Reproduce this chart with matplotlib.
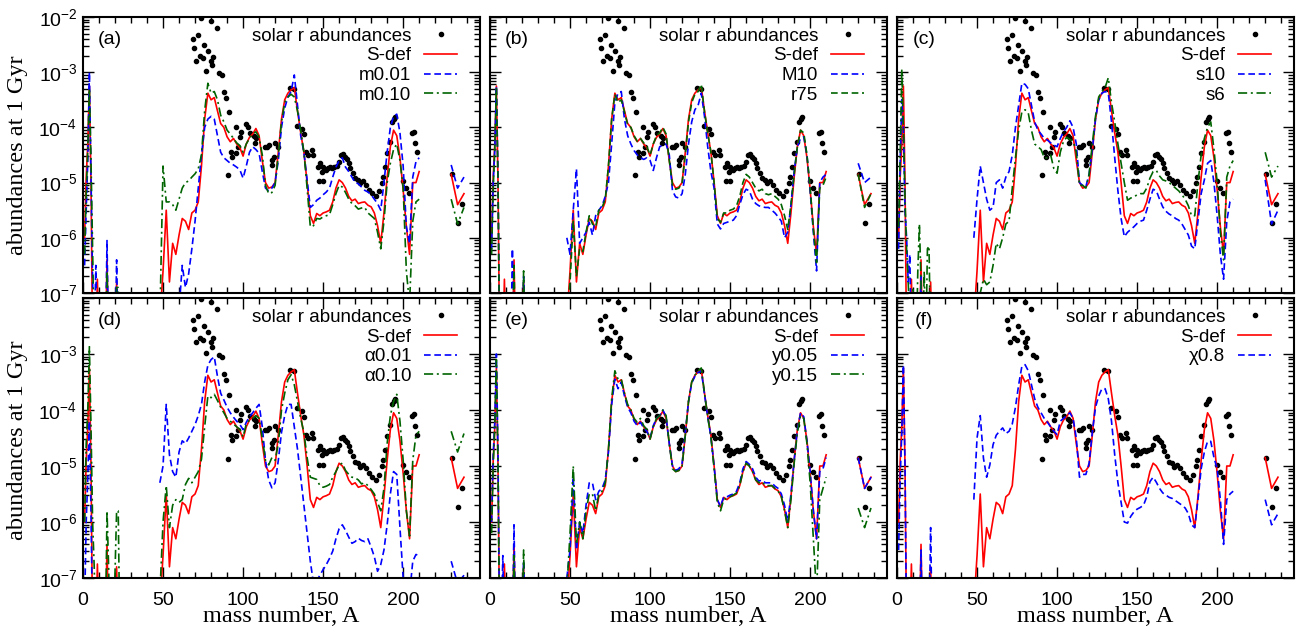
import numpy as np
import matplotlib.pyplot as plt
from matplotlib.ticker import MultipleLocator, LogLocator, FuncFormatter, NullFormatter

plt.rcParams['font.family'] = ['Liberation Sans', 'DejaVu Sans']
plt.rcParams['mathtext.fontset'] = 'custom'
plt.rcParams['mathtext.rm'] = 'Liberation Sans'
plt.rcParams['mathtext.it'] = 'Liberation Sans:italic'

# ---- data (log10 of abundance) ----
# mass-number grids for the three separate line segments
A_light = np.arange(1, 24)          # 1 .. 23
A_heavy = np.arange(48, 212, 2)     # 48 .. 210
A_tail = [230, 234, 238]

# solar r abundances (same in every panel)
solar_A = [68.5, 69.6, 70.6, 71.7, 73.1, 73.5, 74.8, 75.8, 76.9, 78.0, 79.8, 80.0, 80.6, 81.5,
           84.0, 84.7, 87.0, 88.0, 89.5, 90.5, 91.0, 92.2, 93.3, 95.5, 95.7, 97.0, 98.3, 99.0,
           101.9, 103.1, 104.6, 106.6, 107.3, 108.3, 113.6, 115.0, 116.5, 117.9, 118.3, 119.4,
           120.0, 121.7, 129.0, 131.5, 133.4, 136.5, 138.0, 139.4, 140.4, 142.8, 143.8, 147.0,
           147.5, 148.0, 149.2, 149.7, 150.2, 152.0, 153.3, 154.4, 155.4, 156.5, 158.6, 160.2,
           161.0, 162.7, 163.8, 164.8, 166.0, 167.0, 168.7, 170.2, 171.7, 173.3, 175.0, 176.5,
           178.6, 180.7, 182.8, 185.0, 186.6, 187.3, 188.7, 190.2, 191.5, 193.0, 194.0, 195.0,
           200.2, 201.9, 203.4, 205.4, 206.5, 207.5, 208.6, 230.4, 234.0, 237.0]
solar_log = [-2.40, -2.56, -2.79, -2.33, -2.71, -2.02, -2.75, -2.50, -2.98, -2.61, -2.07, -2.79, -2.87, -2.72,
             -2.20, -3.02, -3.05, -3.35, -3.47, -4.87, -3.73, -4.44, -4.54, -4.46, -4.00, -4.35, -4.17, -4.08,
             -3.94, -4.00, -4.10, -4.16, -4.28, -4.20, -4.35, -4.35, -4.32, -4.68, -4.59, -4.53,
             -4.28, -4.35, -3.28, -3.31, -3.97, -4.02, -4.12, -4.44, -4.50, -4.41, -4.50, -4.71,
             -4.98, -4.65, -4.80, -4.98, -4.71, -4.77, -4.74, -4.71, -4.74, -4.71, -4.70, -4.62,
             -4.50, -4.48, -4.53, -4.58, -4.65, -4.74, -4.83, -4.92, -4.95, -5.01, -4.98, -5.04,
             -5.13, -5.19, -5.25, -5.16, -5.00, -4.89, -4.71, -4.47, -4.26, -3.90, -3.84, -3.81,
             -4.98, -5.10, -5.19, -4.11, -4.08, -4.29, -4.44, -4.85, -5.73, -5.39]

# S-def (reference model, in every panel)
sdef_light = [-6.0, -4.9, -4.3, -3.25, -5.0, -8, -8, -8, -6.75, -8, -8, -8, -8, -8, -6.4, -8, -8, -8, -8, -8, -6.8, -8, -8]
sdef_heavy = [-7.5, -6.6, -5.5, -6.8, -6.1, -6.3, -5.95, -5.65, -5.7, -5.85,
              -5.55, -5.5, -5.35, -4.7, -3.85, -3.38, -3.5, -3.46, -3.7, -3.93,
              -4.0, -4.17, -4.26, -4.2, -4.3, -4.37, -4.52, -4.3, -4.18, -4.12,
              -4.02, -4.15, -4.6, -5.0, -5.1, -5.08, -5.0, -4.45, -3.85, -3.5,
              -3.38, -3.32, -3.28, -3.7, -4.1, -4.45, -5.0, -5.6, -5.74, -5.56,
              -5.6, -5.55, -5.53, -5.5, -5.35, -5.1, -4.95, -5.0, -5.1, -5.25,
              -5.33, -5.3, -5.38, -5.36, -5.35, -5.41, -5.44, -5.55, -5.78, -6.1,
              -5.55, -4.9, -4.35, -4.05, -4.15, -4.55, -5.13, -5.8, -6.3, -5.0,
              -5.0, -4.8]
sdef_tail = [-4.85, -5.4, -5.2]

# (a) m0.01, m0.10
m001_light = [-6.5, -5.5, -4.6, -3.0, -4.9, -6.8, -8, -6.5, -8, -8, -8, -8, -8, -8, -6.05, -8, -8, -8, -8, -8, -6.4, -8, -8]
m001_heavy = [-8, -8, -8, -8, -8, -8, -7.3, -6.5, -6.9, -6.65,
              -6.2, -5.7, -5.1, -4.5, -4.0, -3.85, -3.8, -3.85, -4.15, -4.45,
              -4.55, -4.6, -4.65, -4.68, -4.72, -4.77, -4.92, -4.7, -4.45, -4.35,
              -4.4, -4.47, -4.8, -5.1, -5.15, -5.1, -5.0, -4.6, -4.0, -3.65,
              -3.45, -3.35, -3.05, -3.6, -4.15, -4.45, -4.95, -5.45, -5.4, -5.32,
              -5.28, -5.22, -5.17, -5.1, -4.9, -4.72, -4.6, -4.55, -4.72, -4.8,
              -4.9, -5.0, -5.02, -5.08, -5.14, -5.17, -5.22, -5.3, -5.38, -5.5,
              -5.0, -4.45, -4.0, -3.8, -3.76, -4.1, -4.7, -5.8, -6.1, -4.9,
              -4.62, -4.55]
m001_tail = [-4.68, -5.1, -4.9]

m010_light = [-6.3, -5.2, -4.4, -3.3, -4.6, -6.2, -8, -7.5, -8, -8, -8, -8, -8, -8, -6.6, -8, -8, -8, -8, -8, -6.9, -6.9, -8]
m010_heavy = [-7.5, -4.7, -5.35, -5.35, -5.4, -5.5, -5.3, -5.1, -5.0, -4.97,
              -4.9, -4.84, -4.75, -4.5, -3.7, -3.2, -3.38, -3.35, -3.5, -3.78,
              -3.9, -4.05, -4.12, -4.2, -4.28, -4.33, -4.45, -4.3, -4.2, -4.12,
              -4.08, -4.18, -4.5, -5.05, -5.2, -5.18, -5.05, -4.5, -3.9, -3.55,
              -3.45, -3.4, -3.45, -3.7, -4.05, -4.45, -5.1, -5.8, -5.78, -5.65,
              -5.66, -5.62, -5.6, -5.58, -5.4, -5.2, -5.05, -5.08, -5.18, -5.3,
              -5.38, -5.42, -5.48, -5.46, -5.45, -5.55, -5.6, -5.65, -5.9, -6.2,
              -5.7, -5.0, -4.65, -4.4, -4.3, -4.6, -5.1, -6.6, -7.2, -5.7,
              -5.35, -5.3]
m010_tail = [-5.3, -5.75, -5.45]

# (b) M10, r75
M10_light = [-6.2, -5.0, -4.4, -3.25, -4.9, -8, -8, -8, -8, -8, -8, -8, -8, -6.2, -8, -8, -8, -8, -8, -8, -6.7, -8, -8]
M10_heavy = [-6.0, -6.3, -5.5, -4.75, -6.1, -6.0, -5.9, -5.72, -5.95, -5.6,
             -5.5, -5.42, -5.25, -5.0, -4.3, -3.55, -3.38, -3.35, -3.85, -4.15,
             -4.3, -4.42, -4.5, -4.55, -4.58, -4.55, -4.6, -4.78, -4.55, -4.35,
             -4.32, -4.3, -4.5, -5.15, -5.26, -5.28, -5.2, -4.85, -4.3, -3.9,
             -3.68, -3.6, -3.38, -3.8, -4.35, -4.8, -5.1, -5.75, -5.84, -5.74,
             -5.72, -5.7, -5.68, -5.6, -5.4, -5.22, -5.12, -5.15, -5.3, -5.38,
             -5.42, -5.44, -5.45, -5.45, -5.5, -5.55, -5.62, -5.7, -6.0, -5.9,
             -5.4, -4.8, -4.35, -4.2, -4.17, -4.5, -5.15, -5.9, -6.6, -5.0,
             -4.9, -4.85]
M10_tail = [-4.65, -5.0, -4.9]

r75_light = [-6.3, -5.1, -4.4, -3.3, -5.0, -8, -8, -8, -8, -8, -8, -8, -8, -8, -6.5, -8, -8, -8, -8, -8, -6.6, -8, -8]
r75_heavy = [-7.5, -6.8, -5.7, -6.7, -6.2, -6.25, -5.9, -5.6, -5.75, -5.8,
             -5.5, -5.45, -5.3, -4.7, -3.85, -3.4, -3.55, -3.5, -3.72, -3.95,
             -4.0, -4.15, -4.25, -4.2, -4.28, -4.35, -4.5, -4.3, -4.15, -4.1,
             -4.0, -4.12, -4.6, -5.05, -5.12, -5.1, -5.0, -4.5, -3.9, -3.55,
             -3.4, -3.35, -3.22, -3.72, -4.1, -4.45, -5.0, -5.65, -5.72, -5.55,
             -5.55, -5.5, -5.48, -5.42, -5.25, -5.0, -4.85, -4.9, -5.0, -5.1,
             -5.15, -5.12, -5.2, -5.22, -5.2, -5.25, -5.3, -5.4, -5.6, -5.85,
             -5.4, -4.85, -4.35, -4.05, -4.1, -4.5, -5.1, -5.85, -6.45, -5.1,
             -5.05, -4.9]
r75_tail = [-4.85, -5.45, -5.2]

# (c) s10, s6
s10_light = [-6.2, -4.6, -3.5, -4.0, -5.5, -6.0, -6.8, -6.3, -8, -8, -8, -8, -8, -8, -6.7, -8, -8, -8, -8, -8, -8, -8, -8]
s10_heavy = [-6.0, -5.3, -4.7, -5.0, -5.3, -5.5, -5.45, -5.0, -4.95, -5.1,
             -4.9, -4.8, -4.5, -4.0, -3.6, -3.2, -3.22, -3.3, -3.6, -3.9,
             -4.05, -4.12, -4.2, -4.23, -4.28, -4.32, -4.35, -4.2, -4.08, -4.0,
             -3.88, -4.0, -4.3, -5.0, -5.05, -5.07, -4.85, -4.4, -3.85, -3.5,
             -3.38, -3.35, -3.38, -3.9, -4.55, -5.15, -5.65, -5.98, -5.9, -5.85,
             -5.8, -5.74, -5.7, -5.68, -5.5, -5.3, -5.12, -5.15, -5.3, -5.44,
             -5.52, -5.57, -5.6, -5.65, -5.68, -5.75, -5.85, -5.95, -6.15, -6.2,
             -5.7, -5.2, -4.95, -4.65, -4.6, -5.0, -5.6, -6.3, -6.75, -5.7,
             -5.35, -5.3]
s10_tail = [-4.95, -5.75, -5.5]

s6_light = [-5.8, -4.5, -2.95, -4.0, -5.3, -6.2, -6.8, -7.5, -8, -6.9, -8, -8, -6.6, -5.75, -6.8, -8, -6.6, -8, -6.2, -6.15, -8, -8, -8]
s6_heavy = [-8, -8, -7.0, -6.75, -6.85, -6.8, -6.5, -6.1, -6.2, -6.0,
            -5.75, -5.7, -5.1, -4.55, -4.05, -3.72, -3.68, -3.74, -4.05, -4.3,
            -4.35, -4.4, -4.55, -4.55, -4.5, -4.75, -4.83, -4.45, -4.25, -4.18,
            -4.22, -4.25, -4.45, -5.05, -5.05, -5.1, -4.85, -4.3, -3.8, -3.45,
            -3.35, -3.28, -3.1, -3.55, -3.9, -4.3, -4.65, -5.0, -5.32, -5.28,
            -5.26, -5.22, -5.2, -5.2, -5.1, -4.92, -4.8, -4.78, -4.88, -4.95,
            -4.97, -5.0, -5.05, -5.1, -5.15, -5.22, -5.3, -5.42, -5.6, -5.6,
            -5.0, -4.5, -4.2, -4.0, -3.9, -4.4, -5.0, -5.9, -6.4, -4.9,
            -4.7, -4.6]
s6_tail = [-4.45, -4.9, -4.7]

# (d) alpha0.01, alpha0.10
a001_light = [-7.5, -6.0, -5.2, -4.2, -5.8, -8, -8, -8, -8, -8, -8, -8, -8, -8, -8, -8, -8, -8, -8, -8, -8, -8, -8]
a001_heavy = [-5.3, -5.0, -3.9, -4.8, -5.1, -5.2, -4.75, -4.55, -4.6, -4.5,
              -4.38, -4.26, -4.1, -3.9, -3.5, -3.2, -3.1, -3.05, -3.4, -3.7,
              -3.82, -3.95, -4.05, -4.13, -4.2, -4.26, -4.35, -4.22, -4.12, -4.05,
              -3.97, -3.9, -4.3, -4.9, -5.25, -5.39, -5.3, -4.9, -4.4, -4.1,
              -3.9, -3.9, -4.3, -4.7, -5.2, -5.7, -6.2, -6.7, -7.1, -7.05,
              -6.95, -6.85, -6.76, -6.65, -6.52, -6.3, -6.12, -6.05, -6.15, -6.27,
              -6.38, -6.35, -6.29, -6.33, -6.35, -6.3, -6.45, -6.62, -6.88, -6.76,
              -6.5, -6.05, -5.5, -5.1, -5.15, -6.1, -7.0, -7.6, -7.3, -6.7,
              -6.58, -6.6]
a001_tail = [-6.7, -7.1, -6.95]

a010_light = [-6.0, -4.6, -4.0, -2.87, -4.3, -6.0, -6.8, -8, -8, -8, -8, -8, -8, -8, -5.8, -6.8, -8, -8, -8, -6.9, -5.8, -5.8, -8]
a010_heavy = [-7.3, -6.0, -5.35, -6.1, -5.7, -5.6, -5.65, -5.6, -5.33, -5.22,
              -5.3, -5.2, -5.1, -4.88, -4.3, -3.75, -3.78, -3.72, -3.83, -3.95,
              -4.05, -4.15, -4.2, -4.25, -4.3, -4.35, -4.48, -4.25, -4.18, -4.15,
              -4.1, -4.15, -4.5, -4.9, -4.98, -4.85, -4.9, -4.6, -4.0, -3.7,
              -3.46, -3.37, -3.55, -3.85, -4.15, -4.4, -4.85, -5.2, -5.22, -5.24,
              -5.35, -5.38, -5.36, -5.33, -5.2, -5.1, -4.98, -4.95, -5.08, -5.15,
              -5.2, -5.21, -5.25, -5.32, -5.3, -5.35, -5.42, -5.5, -5.65, -5.8,
              -5.4, -4.6, -4.1, -3.85, -3.72, -4.2, -4.9, -5.8, -6.25, -4.9,
              -4.45, -4.38]
a010_tail = [-4.38, -4.75, -4.42]

# (e) y0.05, y0.15
y005_light = [-6.0, -4.8, -4.2, -3.0, -4.8, -8, -8, -6.6, -8, -8, -8, -8, -8, -8, -6.05, -8, -8, -8, -8, -8, -6.7, -8, -8]
y005_heavy = [-7.0, -6.5, -5.2, -6.5, -6.0, -6.2, -5.7, -5.3, -5.3, -5.6,
              -5.45, -5.4, -5.25, -4.75, -3.9, -3.45, -3.62, -3.5, -3.75, -3.95,
              -4.05, -4.2, -4.28, -4.22, -4.32, -4.38, -4.5, -4.28, -4.15, -4.1,
              -4.0, -4.12, -4.6, -5.0, -5.08, -5.05, -4.95, -4.4, -3.85, -3.52,
              -3.4, -3.33, -3.3, -3.72, -4.12, -4.48, -5.0, -5.6, -5.72, -5.55,
              -5.55, -5.52, -5.5, -5.45, -5.3, -5.05, -4.92, -4.97, -5.05, -5.2,
              -5.27, -5.25, -5.3, -5.3, -5.3, -5.36, -5.4, -5.5, -5.7, -6.0,
              -5.5, -4.9, -4.35, -4.05, -4.12, -4.55, -5.1, -5.8, -6.3, -5.1,
              -5.05, -4.85]
y005_tail = [-4.85, -5.4, -5.2]

y015_light = [-6.2, -5.0, -4.3, -3.1, -5.0, -8, -8, -8, -8, -8, -8, -8, -8, -8, -6.6, -8, -8, -8, -8, -8, -6.5, -8, -8]
y015_heavy = [-7.2, -6.2, -5.0, -6.4, -6.0, -6.3, -5.8, -5.5, -5.5, -5.8,
              -5.5, -5.45, -5.3, -4.7, -3.8, -3.3, -3.45, -3.45, -3.7, -3.9,
              -4.0, -4.15, -4.22, -4.15, -4.28, -4.35, -4.52, -4.3, -4.15, -4.1,
              -4.0, -4.1, -4.6, -5.05, -5.1, -5.08, -5.0, -4.45, -3.85, -3.5,
              -3.38, -3.3, -3.25, -3.7, -4.12, -4.48, -5.05, -5.65, -5.8, -5.6,
              -5.58, -5.55, -5.52, -5.48, -5.35, -5.1, -4.95, -5.0, -5.1, -5.25,
              -5.3, -5.28, -5.35, -5.35, -5.35, -5.4, -5.45, -5.55, -5.8, -6.1,
              -5.6, -4.95, -4.4, -4.1, -4.15, -4.6, -5.3, -6.3, -7.3, -5.6,
              -5.4, -5.2]
y015_tail = [-5.75, -6.1, -5.75]

# (f) chi0.8
x08_light = [-6.5, -5.2, -4.4, -3.2, -5.0, -8, -8, -8, -8, -8, -8, -8, -8, -8, -6.5, -8, -8, -8, -8, -8, -6.1, -8, -8]
x08_heavy = [-5.6, -4.5, -4.1, -4.86, -5.2, -4.98, -4.62, -4.45, -4.38, -4.32,
             -4.42, -4.38, -4.25, -3.95, -3.55, -3.22, -3.19, -3.3, -3.55, -3.8,
             -3.95, -4.05, -4.15, -4.22, -4.3, -4.38, -4.44, -4.2, -4.15, -4.1,
             -4.05, -4.15, -4.5, -5.2, -5.15, -5.15, -4.95, -4.4, -3.95, -3.75,
             -3.62, -3.62, -3.8, -4.2, -4.8, -5.3, -5.65, -6.0, -6.02, -5.9,
             -5.82, -5.77, -5.74, -5.7, -5.55, -5.28, -5.2, -5.29, -5.4, -5.48,
             -5.52, -5.56, -5.58, -5.62, -5.66, -5.7, -5.75, -5.85, -6.05, -6.1,
             -5.6, -5.05, -4.75, -4.56, -4.56, -4.85, -5.05, -5.6, -6.4, -5.6,
             -5.5, -5.45]
x08_tail = [-5.6, -6.05, -5.85]

# ---- styles ----
RED = dict(color='#ff0000', lw=1.2, ls='-')
BLUE = dict(color='#0000ff', lw=1.2, ls=(0, (4, 2.2)))
GREEN_DD = dict(color='#006400', lw=1.2, ls=(0, (5.5, 2.2, 1.2, 2.2)))
GREEN_DASH = dict(color='#006400', lw=1.2, ls=(0, (4, 2.2)))

panels = [
    ('(a)', [('m0.01', m001_light, m001_heavy, m001_tail, BLUE),
             ('m0.10', m010_light, m010_heavy, m010_tail, GREEN_DD)]),
    ('(b)', [('M10', M10_light, M10_heavy, M10_tail, BLUE),
             ('r75', r75_light, r75_heavy, r75_tail, GREEN_DASH)]),
    ('(c)', [('s10', s10_light, s10_heavy, s10_tail, BLUE),
             ('s6', s6_light, s6_heavy, s6_tail, GREEN_DD)]),
    ('(d)', [('\u03b10.01', a001_light, a001_heavy, a001_tail, BLUE),
             ('\u03b10.10', a010_light, a010_heavy, a010_tail, GREEN_DD)]),
    ('(e)', [('y0.05', y005_light, y005_heavy, y005_tail, BLUE),
             ('y0.15', y015_light, y015_heavy, y015_tail, GREEN_DD)]),
    ('(f)', [('\u03c70.8', x08_light, x08_heavy, x08_tail, BLUE)]),
]

W, H = 1301, 632
fig = plt.figure(figsize=(W / 100, H / 100), dpi=100)

col_left = [83, 490, 897]
col_w = 397
row_top = [17, 298]
row_bot = [293, 578]


def draw_series(ax, light, heavy, tail, style, label):
    ax.plot(A_light, 10.0 ** np.array(light), label=label, **style)
    ax.plot(A_heavy, 10.0 ** np.array(heavy), **style)
    ax.plot(A_tail, 10.0 ** np.array(tail), **style)


def decade_label(v, p):
    return r'$\mathregular{10^{%d}}$' % round(np.log10(v))


def decade_label_lower(v, p):
    # the 10^-2 label of the lower row is hidden under the upper panel
    return '' if v > 5e-3 else decade_label(v, p)


for i, (tag, variants) in enumerate(panels):
    r, c = divmod(i, 3)
    x0 = col_left[c]
    ax = fig.add_axes([x0 / W, 1 - row_bot[r] / H, col_w / W, (row_bot[r] - row_top[r]) / H])

    ax.plot(solar_A, 10.0 ** np.array(solar_log), 'o', color='k', ms=3.0, ls='none',
            label='solar r abundances')
    draw_series(ax, sdef_light, sdef_heavy, sdef_tail, RED, 'S-def')
    for name, lt, hv, tl, st in variants:
        draw_series(ax, lt, hv, tl, st, name)

    ax.set_yscale('log')
    ax.set_xlim(0, 248)
    ax.set_ylim(1e-7, 1e-2)
    ax.xaxis.set_major_locator(MultipleLocator(50))
    ax.xaxis.set_minor_locator(MultipleLocator(10))
    ax.yaxis.set_major_locator(LogLocator(base=10, numticks=10))
    ax.yaxis.set_minor_locator(LogLocator(base=10, subs=np.arange(2, 10), numticks=20))
    ax.yaxis.set_minor_formatter(NullFormatter())
    ax.tick_params(which='both', direction='in', top=True, right=True, width=1.0,
                   labelsize=14)
    ax.tick_params(which='major', length=8)
    ax.tick_params(which='minor', length=4)
    ax.tick_params(axis='y', pad=4)
    ax.tick_params(axis='x', pad=10)
    for sp in ax.spines.values():
        sp.set_linewidth(1.5)

    if c == 0:
        ax.yaxis.set_major_formatter(FuncFormatter(decade_label if r == 0 else decade_label_lower))
    else:
        ax.yaxis.set_major_formatter(NullFormatter())
    if r == 0:
        ax.xaxis.set_major_formatter(NullFormatter())

    ax.text(0.068, 0.92, tag, transform=ax.transAxes, ha='center', va='center', fontsize=14)
    ax.legend(loc='upper right', bbox_to_anchor=(0.957, 0.982), frameon=False,
              markerfirst=False, numpoints=1, fontsize=13.5, handlelength=1.75,
              handletextpad=0.7, labelspacing=0.14, borderaxespad=0.0, borderpad=0.3)

    if r == 1:
        fig.text((x0 + col_w / 2) / W, 1 - 617 / H, 'mass number, A', ha='center', va='center',
                 fontsize=17.5, family='Liberation Serif')

for yc in [155, 440]:
    fig.text(18 / W, 1 - yc / H, 'abundances at 1 Gyr', rotation=90, ha='center', va='center',
             fontsize=17.5, family='Liberation Serif')

fig.savefig('out.png', dpi=100)
